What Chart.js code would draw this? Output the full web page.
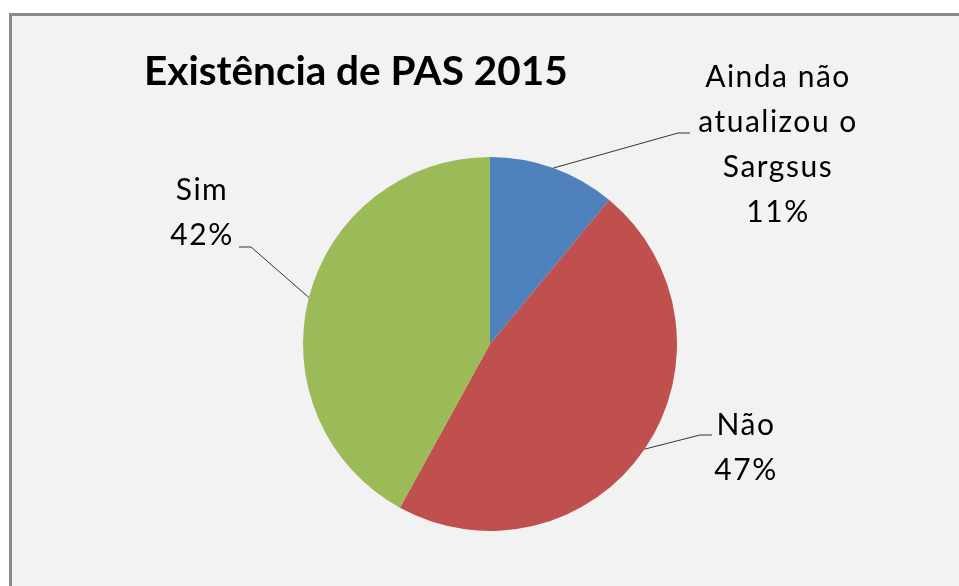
<!DOCTYPE html>
<html>
<head>
<meta charset="utf-8">
<script src="https://cdn.jsdelivr.net/npm/chart.js@4"></script>
<style>
  html, body { margin: 0; padding: 0; background: #fff; overflow: hidden; }
  #frame {
    position: absolute; left: 9px; top: 13px; width: 1000px; height: 1000px;
    border: 3px solid #8a8a8a; background: #f2f2f2;
  }
  #chart { position: absolute; left: 0; top: 0; }
</style>
</head>
<body>
<div id="frame"></div>
<canvas id="chart" width="959" height="586"></canvas>
<script>
const TITLE = "Existência de PAS 2015";
const categories = ["Ainda não atualizou o Sargsus", "Não", "Sim"];
const labelLines = [["Ainda não", "atualizou o", "Sargsus"], ["Não"], ["Sim"]];
const values = [11, 47, 42];
const colors = ["#4f81bd", "#c0504d", "#9bbb59"];

// label placement, relative to the pie centre
const labelSpots = [
  { x: 287, y: -257, elbow: [188, -211], end: [200, -211] },
  { x: 255, y: 91, elbow: [210, 91], end: [222, 91] },
  { x: -289, y: -144, elbow: [-239, -97], end: [-251, -97] },
];

const outsideLabels = {
  id: "outsideLabels",
  afterDraw(chart) {
    const ctx = chart.ctx;
    const meta = chart.getDatasetMeta(0);
    const total = values.reduce((a, b) => a + b, 0);

    ctx.save();
    ctx.fillStyle = "#000";
    ctx.font = "bold 40.5px Lato";
    ctx.textAlign = "left";
    ctx.textBaseline = "alphabetic";
    ctx.fillText(TITLE, 144, 85);

    meta.data.forEach(function (arc, i) {
      const cx = arc.x, cy = arc.y;
      const mid = (arc.startAngle + arc.endAngle) / 2;
      const sx = cx + Math.cos(mid) * arc.outerRadius;
      const sy = cy + Math.sin(mid) * arc.outerRadius;
      const spot = labelSpots[i];

      ctx.strokeStyle = "#333";
      ctx.lineWidth = 1;
      ctx.beginPath();
      ctx.moveTo(sx, sy);
      ctx.lineTo(cx + spot.elbow[0], cy + spot.elbow[1]);
      ctx.lineTo(cx + spot.end[0], cy + spot.end[1]);
      ctx.stroke();

      const lines = labelLines[i].concat([Math.round(values[i] / total * 100) + "%"]);
      ctx.font = "30px Lato";
      ctx.letterSpacing = "1.5px";
      ctx.textAlign = "center";
      lines.forEach(function (t, k) {
        ctx.fillText(t, cx + spot.x + 1, cy + spot.y + k * 45);
      });
      ctx.letterSpacing = "0px";
    });
    ctx.restore();
  },
};

new Chart(document.getElementById("chart"), {
  type: "pie",
  data: {
    labels: categories,
    datasets: [{
      data: values,
      backgroundColor: colors,
      borderWidth: 0,
    }],
  },
  options: {
    responsive: false,
    animation: false,
    layout: { padding: { top: 157, bottom: 55, left: 21, right: 0 } },
    plugins: {
      legend: { display: false },
      tooltip: { enabled: false },
      title: { display: false },
    },
  },
  plugins: [outsideLabels],
});
</script>
</body>
</html>
